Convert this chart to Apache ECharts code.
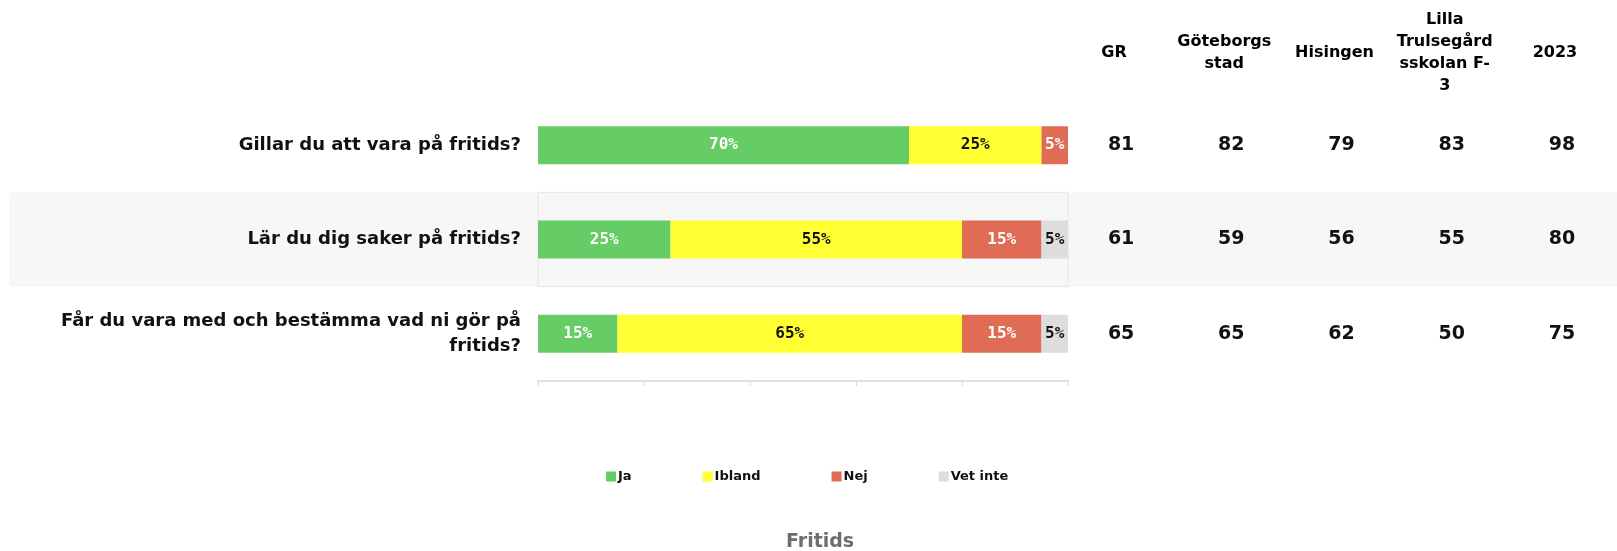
<!DOCTYPE html>
<html>
<head>
<meta charset="utf-8">
<title>Fritids</title>
<script src="https://cdn.jsdelivr.net/npm/echarts@6/dist/echarts.min.js"></script>
<style>
  html, body { margin: 0; padding: 0; background: #fff; }
  #main { width: 1617px; height: 551px; }
</style>
</head>
<body>
<div id="main"></div>
<script>
// frågor och svar (procent)
const questions = ['Gillar du att vara på fritids?', 'Lär du dig saker på fritids?', 'Får du vara med och bestämma vad ni gör på fritids?'];
const ja = [70, 25, 15];
const ibland = [25, 55, 65];
const nej = [5, 15, 15];
const vetInte = [0, 5, 5];
const answerNames = ['Ja', 'Ibland', 'Nej', 'Vet inte'];
const answerColors = ['#66cc66', '#ffff33', '#e06c55', '#dddddd'];
const labelColors = ['#fff', '#111', '#fff', '#111'];

// jämförelsetabell till höger
const columns = ['GR', 'Göteborgs\nstad', 'Hisingen', 'Lilla\nTrulsegård\nsskolan F-\n3', '2023'];
const grValues = [81, 61, 65];
const goteborgValues = [82, 59, 65];
const hisingenValues = [79, 56, 62];
const lillaValues = [83, 55, 50];
const year2023Values = [98, 80, 75];

const chartTitle = 'Fritids';

let myChart = echarts.init(document.getElementById('main'));

let tableData = [];
[grValues, goteborgValues, hisingenValues, lillaValues, year2023Values].forEach((col, c) => {
  col.forEach((v, r) => {
    tableData.push([c, r, v]);
  });
});

let barSeries = [ja, ibland, nej, vetInte].map((values, i) => {
  return {
    name: answerNames[i],
    type: 'bar',
    stack: 'total',
    barWidth: 38,
    xAxisIndex: 0,
    yAxisIndex: 0,
    itemStyle: { color: answerColors[i] },
    emphasis: { disabled: true },
    label: {
      show: true,
      position: 'inside',
      color: labelColors[i],
      fontFamily: 'DejaVu Sans Mono',
      fontWeight: 'bold',
      fontSize: 16,
      formatter: (p) => p.value > 0 ? p.value + '%' : ''
    },
    data: values
  };
});

let option = {
  animation: false,
  title: {
    text: chartTitle,
    left: 786,
    top: 533,
    padding: 0,
    textStyle: {
      fontFamily: 'DejaVu Sans',
      fontWeight: 'bold',
      fontSize: 19,
      color: '#6e6e6e'
    }
  },
  legend: {
    data: answerNames,
    left: 601,
    top: 465,
    icon: 'rect',
    itemWidth: 10,
    itemHeight: 10,
    itemGap: 71,
    textStyle: {
      fontFamily: 'DejaVu Sans',
      fontWeight: 'bold',
      fontSize: 13,
      color: '#111',
      padding: [0, 0, 0, -3]
    }
  },
  grid: [
    { left: 538, right: 549, top: 98, bottom: 170 },
    { left: 1066, width: 568, top: 98, bottom: 170 }
  ],
  xAxis: [
    {
      type: 'value',
      gridIndex: 0,
      min: 0,
      max: 100,
      interval: 20,
      axisLabel: { show: false },
      splitLine: { show: false },
      axisLine: { show: true, lineStyle: { color: '#e0e0e0', width: 2 } },
      axisTick: { show: true, length: 5, lineStyle: { color: '#d8d8d8' } }
    },
    {
      type: 'category',
      gridIndex: 1,
      position: 'top',
      data: columns,
      axisLine: { show: false },
      axisTick: { show: false },
      splitLine: { show: false },
      axisLabel: {
        interval: 0,
        margin: 45,
        verticalAlign: 'middle',
        padding: [0, 14, 0, 0],
        fontFamily: 'DejaVu Sans',
        fontWeight: 'bold',
        fontSize: 16,
        lineHeight: 22,
        color: '#000'
      }
    }
  ],
  yAxis: [
    {
      type: 'category',
      gridIndex: 0,
      inverse: true,
      data: questions,
      axisLine: { show: false },
      axisTick: { show: false },
      axisLabel: {
        margin: 17,
        width: 490,
        overflow: 'break',
        lineHeight: 25,
        fontFamily: 'DejaVu Sans',
        fontWeight: 'bold',
        fontSize: 18,
        color: '#111'
      }
    },
    {
      type: 'category',
      gridIndex: 1,
      inverse: true,
      data: questions,
      show: false
    }
  ],
  series: barSeries.concat([
    {
      name: 'tabell',
      type: 'scatter',
      xAxisIndex: 1,
      yAxisIndex: 1,
      symbolSize: 1,
      itemStyle: { color: 'rgba(0,0,0,0)', opacity: 1 },
      emphasis: { disabled: true },
      label: {
        show: true,
        position: 'inside',
        formatter: (p) => p.value[2],
        fontFamily: 'DejaVu Sans',
        fontWeight: 'bold',
        fontSize: 19,
        color: '#111'
      },
      data: tableData
    }
  ])
};

myChart.setOption(option);

// grå bakgrund för rad 2
let y0 = myChart.convertToPixel({ yAxisIndex: 0 }, questions[0]);
let y1 = myChart.convertToPixel({ yAxisIndex: 0 }, questions[1]);
let band = y1 - y0;
let xLeft = myChart.convertToPixel({ xAxisIndex: 0 }, 0);
let xRight = myChart.convertToPixel({ xAxisIndex: 0 }, 100);
myChart.setOption({
  graphic: [
    {
      type: 'rect',
      z: -10,
      silent: true,
      shape: { x: 9, y: y1 - band / 2, width: 1617 - 9, height: band },
      style: { fill: '#f7f7f7' }
    },
    {
      type: 'rect',
      z: -9,
      silent: true,
      shape: { x: xLeft, y: y1 - band / 2, width: xRight - xLeft, height: band },
      style: { fill: '#f7f7f7', stroke: '#e6e6e6', lineWidth: 1 }
    }
  ]
});
</script>
</body>
</html>
